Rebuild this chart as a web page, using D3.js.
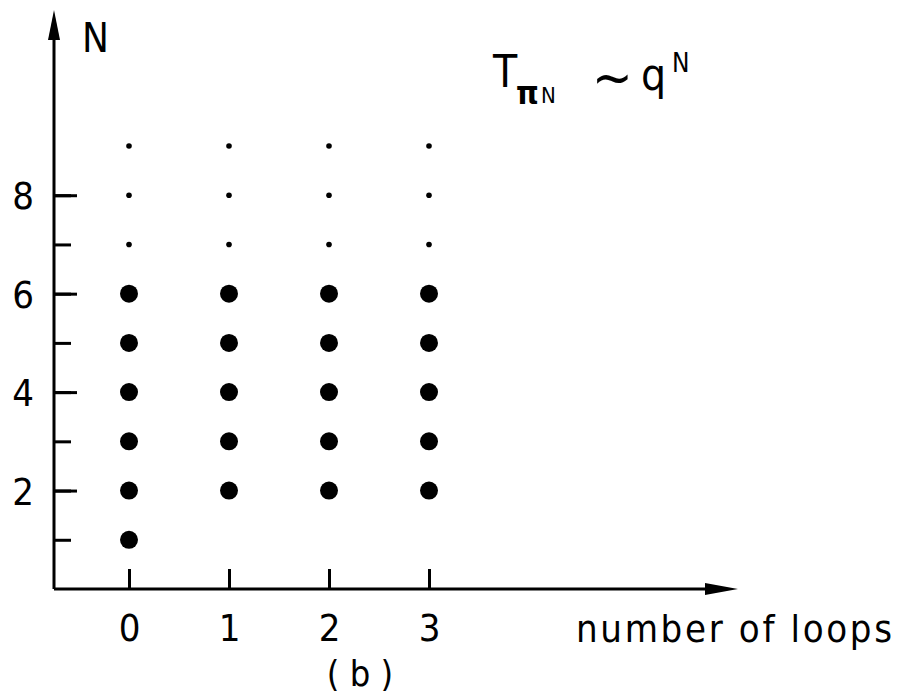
<!DOCTYPE html>
<html>
<head>
<meta charset="utf-8">
<script src="https://cdn.jsdelivr.net/npm/d3@7"></script>
<style>
  body { margin: 0; background: #fff; }
  svg { display: block; }
  text { font-family: "Liberation Sans Narrow", "DejaVu Sans Condensed", sans-serif; fill: #000; }
</style>
</head>
<body>
<script>
// loops on the x axis, big dots = orders N that contribute, small dots = continuation
let loops = [0, 1, 2, 3];
let nLow = [1, 2, 2, 2];
let nHigh = [6, 6, 6, 6];
let nDotted = [7, 8, 9];
let yMajor = [2, 4, 6, 8];
let yMinor = [1, 2, 3, 4, 5, 6, 7, 8];

(function app() {
  let svg = d3
    .select("body")
    .append("svg")
    .attr("width", 911)
    .attr("height", 697);

  let x = d3.scaleLinear().domain([0, 3]).range([129, 429]);
  let y = d3.scaleLinear().domain([0, 9]).range([589, 146]);

  let x0 = 54;
  let y0 = y(0);

  // axis lines with arrows
  svg
    .append("line")
    .attr("x1", x0)
    .attr("x2", x0)
    .attr("y1", y0)
    .attr("y2", 30)
    .attr("stroke", "black")
    .attr("stroke-width", 3);
  svg
    .append("line")
    .attr("x1", x0)
    .attr("x2", 715)
    .attr("y1", y0)
    .attr("y2", y0)
    .attr("stroke", "black")
    .attr("stroke-width", 3);
  svg
    .append("path")
    .attr("d", `M${x0},10 L${x0 - 6},40 L${x0 + 6},40 Z`)
    .attr("fill", "black");
  svg
    .append("path")
    .attr("d", `M738,${y0} L705,${y0 - 6} L705,${y0 + 6} Z`)
    .attr("fill", "black");

  // y ticks
  let yMinorAxis = d3
    .axisLeft(y)
    .tickValues(yMinor)
    .tickSize(-17)
    .tickFormat("");
  let gMinor = svg
    .append("g")
    .attr("transform", `translate(${x0},0)`)
    .call(yMinorAxis);
  let yMajorAxis = d3
    .axisLeft(y)
    .tickValues(yMajor)
    .tickSize(-23)
    .tickPadding(20)
    .tickFormat(d3.format("d"));
  let gMajor = svg
    .append("g")
    .attr("transform", `translate(${x0},0)`)
    .call(yMajorAxis);

  // x ticks
  let xAxis = d3
    .axisBottom(x)
    .tickValues(loops)
    .tickSize(-20)
    .tickPadding(25)
    .tickFormat(d3.format("d"));
  let gX = svg
    .append("g")
    .attr("transform", `translate(0,${y0})`)
    .call(xAxis);

  [gMinor, gMajor, gX].forEach(g => {
    g.select(".domain").remove();
    g.selectAll(".tick line").attr("stroke", "black").attr("stroke-width", 3);
    g.selectAll(".tick text")
      .attr("font-size", 38)
      .attr("font-family", null)
      .attr("fill", "black");
  });
  gMajor.selectAll(".tick text").attr("dy", "0.36em");

  // big dots
  let pts = [];
  loops.forEach((l, i) => {
    for (let n = nLow[i]; n <= nHigh[i]; n++) pts.push({ l: l, n: n });
  });
  svg
    .append("g")
    .selectAll("circle")
    .data(pts)
    .enter()
    .append("circle")
    .attr("cx", d => x(d.l))
    .attr("cy", d => y(d.n))
    .attr("r", 9)
    .attr("fill", "black");

  // small dots
  let small = [];
  loops.forEach(l => nDotted.forEach(n => small.push({ l: l, n: n })));
  svg
    .append("g")
    .selectAll("circle")
    .data(small)
    .enter()
    .append("circle")
    .attr("cx", d => x(d.l))
    .attr("cy", d => y(d.n))
    .attr("r", 2.8)
    .attr("fill", "black");

  // labels
  svg
    .append("text")
    .attr("x", 82)
    .attr("y", 52)
    .attr("font-size", 40)
    .text("N");

  svg
    .append("text")
    .attr("x", 576)
    .attr("y", 642)
    .attr("font-size", 38)
    .attr("textLength", 316)
    .attr("lengthAdjust", "spacing")
    .text("number of loops");

  svg
    .append("text")
    .attr("x", 360)
    .attr("y", 686)
    .attr("font-size", 36)
    .attr("text-anchor", "middle")
    .text("( b )");

  // T_piN ~ q^N
  let f = svg.append("text").attr("font-size", 44);
  f.append("tspan").attr("x", 493).attr("y", 87).text("T");
  f.append("tspan").attr("x", 516).attr("y", 104).attr("font-size", 32).attr("font-weight", "bold").text("π");
  f.append("tspan").attr("x", 541).attr("y", 103).attr("font-size", 22).text("N");
  f.append("tspan").attr("x", 592).attr("y", 96).attr("font-size", 54).text("∼");
  f.append("tspan").attr("x", 641).attr("y", 90).text("q");
  f.append("tspan").attr("x", 672).attr("y", 72).attr("font-size", 26).text("N");
})();
</script>
</body>
</html>
